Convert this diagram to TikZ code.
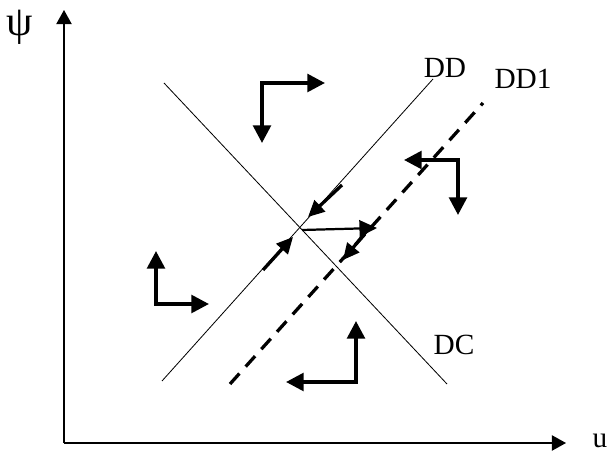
\documentclass[tikz,border=0pt]{standalone}
\usepackage{fontspec}
\setmainfont{Liberation Serif}
\usetikzlibrary{arrows.meta,positioning}

\begin{document}
\begin{tikzpicture}[
    x=0.03cm,
    y=-0.03cm,
    font=\fontsize{25}{30}\selectfont,
    axis/.style={
		line width=1.2pt,
		-{Triangle[length=12pt,width=13pt]}
	},
	curve/.style={
		line width=0.7pt
	},
	shifted/.style={
		line width=2.8pt,
		dash pattern=on 12pt off 8pt
	},
	move/.style={
		line width=3.1pt,
		{Triangle[length=15pt,width=15pt]}-{Triangle[length=15pt,width=15pt]}
	},
	step in/.style={
		line width=2.8pt,
		-{Triangle[length=14pt,width=13pt]}
	},
	jump/.style={
		line width=1.9pt,
		-{Triangle[length=15pt,width=14pt]}
	}
  ]
    % We start by fixing the frame
  \useasboundingbox (0,0) rectangle (607,454);

  \coordinate (origin) at (64,443);
  \coordinate (ytop) at (64,10);
  \coordinate (xend) at (566,443);
  \node [font=\fontsize{36}{40}\selectfont] (psi) at (20,27) {ψ};
  \node (u) at (600,441) {u};

  \draw [axis] (origin) -- (ytop);
  \draw [axis] (origin) -- (xend);

    % the two loci and the shifted one
  \coordinate (dd0) at (162,381);
  \coordinate (dd1) at (433,79);
  \coordinate (dc0) at (164,83);
  \coordinate (dc1) at (447,384);
  \coordinate (ds0) at (230,384);
  \coordinate (ds1) at (483,103);

  \draw [curve] (dd0) -- (dd1);
  \draw [curve] (dc0) -- (dc1);
  \draw [shifted] (ds0) -- (ds1);

  \node (DD) at (445,68) {DD};
  \node (DD1) at (523,79) {DD1};
  \node (DC) at (454,345) {DC};

    % motion in each region
  \coordinate (ta) at (325,83);
  \coordinate (ca) at (262,83);
  \coordinate (ba) at (262,143);
  \draw [move] (ta) -- (ca) -- (ba);

  \coordinate (tb) at (404,160);
  \coordinate (cb) at (458,160);
  \coordinate (bb) at (458,215);
  \draw [move] (tb) -- (cb) -- (bb);

  \coordinate (tc) at (156,251);
  \coordinate (cc) at (156,304);
  \coordinate (bc) at (209,304);
  \draw [move] (tc) -- (cc) -- (bc);

  \coordinate (td) at (356,321);
  \coordinate (cd) at (356,382);
  \coordinate (bd) at (286,382);
  \draw [move] (td) -- (cd) -- (bd);

    % adjustment near the crossing
  \coordinate (e1) at (263,270);
  \coordinate (e1t) at (293,237);
  \coordinate (e2) at (342,185);
  \coordinate (e2t) at (308,217);
  \coordinate (e3) at (302,230);
  \coordinate (e3t) at (377,228);
  \coordinate (e4) at (370,227);
  \coordinate (e4t) at (343,260);

  \draw [step in] (e1) -- (e1t);
  \draw [step in] (e2) -- (e2t);
  \draw [jump] (e3) -- (e3t);
  \draw [step in] (e4) -- (e4t);

\end{tikzpicture}
\end{document}
